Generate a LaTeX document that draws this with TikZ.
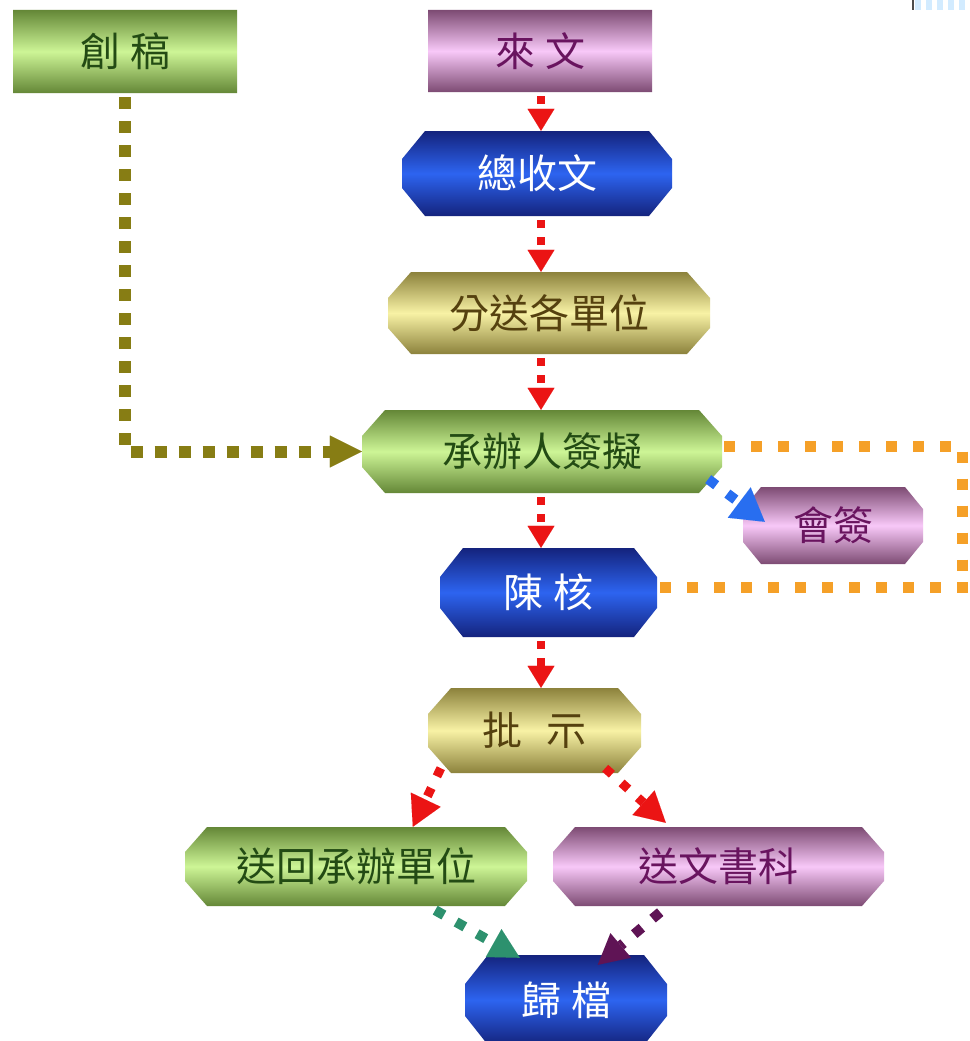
\documentclass[tikz,border=0pt]{standalone}
\usepackage{fontspec}
\newfontfamily\cjk{Noto Sans CJK TC}
\usetikzlibrary{arrows.meta,calc}
\definecolor{grnD}{RGB}{100,135,55}
\definecolor{grnL}{RGB}{205,245,150}
\definecolor{grnT}{RGB}{35,75,20}
\definecolor{pnkD}{RGB}{125,75,115}
\definecolor{pnkL}{RGB}{248,200,248}
\definecolor{pnkT}{RGB}{105,20,95}
\definecolor{bluD}{RGB}{20,35,125}
\definecolor{bluL}{RGB}{45,100,240}
\definecolor{yelD}{RGB}{140,130,60}
\definecolor{yelL}{RGB}{248,242,165}
\definecolor{yelT}{RGB}{85,65,15}
\definecolor{redA}{RGB}{235,20,20}
\definecolor{olvA}{RGB}{135,125,20}
\definecolor{orgA}{RGB}{245,160,40}
\definecolor{bluA}{RGB}{40,110,240}
\definecolor{tealA}{RGB}{45,145,110}
\definecolor{purA}{RGB}{95,20,85}
\definecolor{artB}{RGB}{210,235,255}
\newcommand\cbox[9]{%
  \shade[#6box] ({#2+#7},#3) -- ({#4-#7},#3) -- (#4,{#3+#8}) -- (#4,{#5-#8})
    -- ({#4-#7},#5) -- ({#2+#7},#5) -- (#2,{#5-#8}) -- (#2,{#3+#8}) -- cycle;
  \node[#6txt, lbl, minimum width={(#4-#2)*1pt}, minimum height={(#5-#3)*1pt}]
    (#1) at ({(#2+#4)/2},{(#3+#5)/2}) {#9};}
\tikzset{
  grnbox/.style={top color=grnD, bottom color=grnD, middle color=grnL},
  pnkbox/.style={top color=pnkD, bottom color=pnkD, middle color=pnkL},
  blubox/.style={top color=bluD, bottom color=bluD, middle color=bluL},
  yelbox/.style={top color=yelD, bottom color=yelD, middle color=yelL},
  grntxt/.style={text=grnT}, pnktxt/.style={text=pnkT},
  blutxt/.style={text=white}, yeltxt/.style={text=yelT},
  lbl/.style={inner sep=0pt, font=\cjk\fontsize{40}{40}\selectfont},
  redflow/.style={draw=redA, line width=8pt, dash pattern=on 8pt off 9pt,
    -{Triangle[length=22pt,width=27pt,line width=0.01pt]}},
  reddiag/.style={draw=redA, line width=9pt, dash pattern=on 9pt off 13pt,
    -{Triangle[length=30pt,width=33pt,line width=0.01pt]}},
  olvflow/.style={draw=olvA, line width=12pt, dash pattern=on 12pt off 12pt,
    -{Triangle[length=32pt,width=32pt,line width=0.01pt]}},
  orgflow/.style={draw=orgA, line width=11pt, dash pattern=on 11pt off 16pt},
  bluflow/.style={draw=bluA, line width=10pt, dash pattern=on 10pt off 14pt,
    -{Triangle[length=32pt,width=38pt,line width=0.01pt]}},
  tealflow/.style={draw=tealA, line width=10pt, dash pattern=on 10pt off 14pt,
    -{Triangle[length=30pt,width=32pt,line width=0.01pt]}},
  purflow/.style={draw=purA, line width=10pt, dash pattern=on 10pt off 14pt,
    -{Triangle[length=30pt,width=32pt,line width=0.01pt]}},
}
\begin{document}
\begin{tikzpicture}[x=1pt,y=-1pt]
\fill[white] (0,0) rectangle (969,1041);
\useasboundingbox (0,0) rectangle (969,1041);
\clip (0,0) rectangle (969,1041);
% corner artifact
\fill[black!70] (912,0) rectangle (914,10);
\foreach \a in {915,926,937,948,959} \fill[artB] (\a,0) rectangle ++(6,10);
% boxes
\cbox{chuanggao}{13}{10}{237}{93}{grn}{0}{0}{創\hspace{0.25em}稿}
\cbox{laiwen}{428}{10}{652}{92}{pnk}{0}{0}{來\hspace{0.25em}文}
\cbox{zongshou}{402}{131}{672}{216}{blu}{23}{28}{總收文}
\cbox{fensong}{388}{272}{710}{354}{yel}{23}{26}{分送各單位}
\cbox{chengban}{362}{410}{722}{493}{grn}{23}{26}{承辦人簽擬}
\cbox{huiqian}{743}{487}{923}{564}{pnk}{18}{22}{會簽}
\cbox{chenhe}{440}{548}{657}{637}{blu}{23}{29}{陳\hspace{0.25em}核}
\cbox{pishi}{428}{688}{641}{773}{yel}{23}{26}{批\hspace{0.6em}示}
\cbox{songhui}{185}{827}{527}{906}{grn}{22}{25}{送回承辦單位}
\cbox{songwen}{553}{827}{884}{906}{pnk}{22}{25}{送文書科}
\cbox{guidang}{465}{955}{667}{1045}{blu}{23}{29}{歸\hspace{0.25em}檔}
% connectors
\coordinate (ax) at (541,0);
\coordinate (ocr) at (962,0);
\draw[redflow] ([yshift=-4pt]laiwen.south -| ax) -- (zongshou.north -| ax);
\draw[redflow] ([yshift=-4pt]zongshou.south -| ax) -- (fensong.north -| ax);
\draw[redflow] ([yshift=-4pt]fensong.south -| ax) -- (chengban.north -| ax);
\draw[redflow] ([yshift=-4pt]chengban.south -| ax) -- (chenhe.north -| ax);
\draw[redflow] ([yshift=-4pt]chenhe.south -| ax) -- (pishi.north -| ax);
\draw[reddiag] ([shift={(13,-5)}]pishi.south west) -- ([shift={(228,0)}]songhui.north west);
\draw[reddiag] ([shift={(-36,-5)}]pishi.south east) -- ([shift={(113,-4)}]songwen.north west);
\draw[tealflow] ([shift={(-92,4)}]songhui.south east) -- ([shift={(55,3)}]guidang.north west);
\draw[purflow] ([shift={(-224,6)}]songwen.south east) -- ([shift={(133,10)}]guidang.north west);
\draw[bluflow] ([shift={(-14,-14)}]chengban.south east) -- ([shift={(22,35)}]huiqian.north west);
\draw[olvflow] ([yshift=-4pt]chuanggao.south) |- (chengban.west);
\draw[orgflow] ([shift={(2,-5)}]chengban.east) -- ([shift={(0,-5)}]chengban.east -| ocr)
  -- ([shift={(0,-5)}]chenhe.east -| ocr);
\draw[orgflow] ([shift={(3,-5)}]chenhe.east) -- ([shift={(6,-5)}]chenhe.east -| ocr);
\end{tikzpicture}
\end{document}
